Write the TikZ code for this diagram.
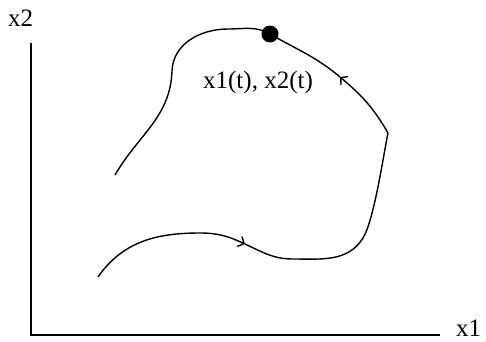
\documentclass[tikz,border=0pt]{standalone}
\usepackage{fontspec}
\setmainfont{Liberation Serif}
\usepackage{tikz}
\usetikzlibrary{arrows.meta}

\tikzset{
  axisline/.style={line width=1.2pt},
  traj/.style={line width=1.4pt},
  barb/.style={-{Straight Barb[length=5pt,width=11pt]}},
  lbl/.style={inner sep=0pt,font=\fontsize{25}{30}\selectfont}
}

\begin{document}
\begin{tikzpicture}[x=1pt,y=1pt]
  \useasboundingbox (0,0) rectangle (486,341);
  % axes
  \coordinate (o) at (31,6);
  \coordinate (ytop) at (31,298);
  \coordinate (xend) at (440,6);
  \draw[axisline] (ytop) -- (o) -- (xend);
  \node[lbl,anchor=base west] (ylab) at (8,315) {x2};
  \node[lbl,anchor=base west] (xlab) at (456,5) {x1};

  % trajectory points
  \coordinate (s) at (98,64);
  \coordinate (lo) at (200,108);
  \coordinate (a1) at (245,97);
  \coordinate (bot) at (293,82);
  \coordinate (r1) at (363,103);
  \coordinate (cor) at (388,208);
  \coordinate (a2) at (340,264);
  \coordinate (p) at (270,307);
  \coordinate (top) at (228,312);
  \coordinate (nk) at (172,270);
  \coordinate (e) at (115,166);

  \draw[traj,barb] (s) to[out=55,in=180] (lo) to[out=0,in=155] (a1);
  \draw[traj] (a1) to[out=-25,in=180] (bot) to[out=0,in=-122] (r1)
    to[out=58,in=-102,looseness=0.5] (cor);
  \draw[traj,barb] (cor) to[out=120,in=-40] (a2);
  \draw[traj] (a2) to[out=140,in=-30] (p) to[out=150,in=0] (top)
    to[out=180,in=88] (nk) to[out=-92,in=60] (e);

  \fill (p) circle (8.5);
  \node[lbl] (state) at (258,258.5) {x1(t), x2(t)};
\end{tikzpicture}
\end{document}
